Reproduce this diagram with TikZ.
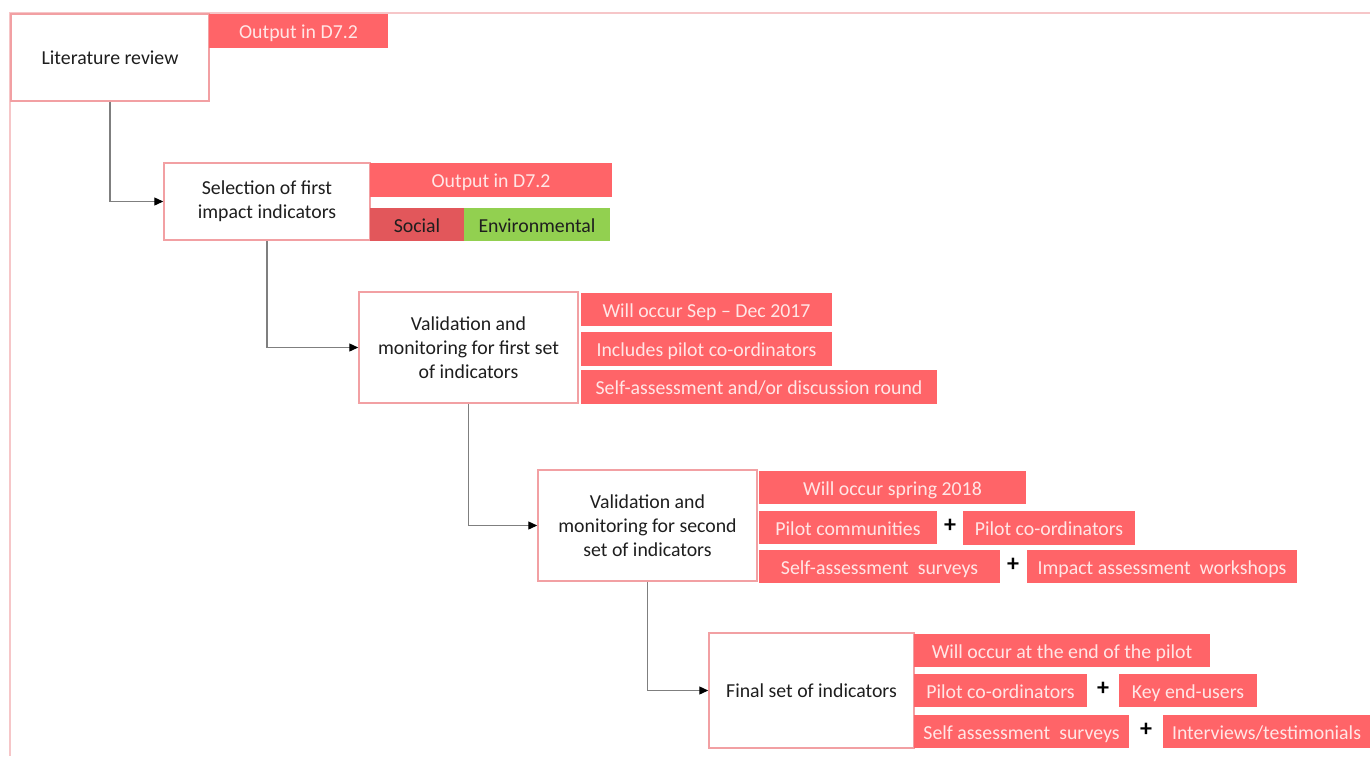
\documentclass[tikz,border=0pt]{standalone}
\usepackage{fontspec}
\setmainfont{Carlito}
\usetikzlibrary{arrows.meta}

\definecolor{framepink}{HTML}{F6C6C8}
\definecolor{boxpink}{HTML}{F2A0A3}
\definecolor{tagred}{HTML}{FF6468}
\definecolor{tagtext}{HTML}{FFE6E6}
\definecolor{socialred}{HTML}{E2575B}
\definecolor{envgreen}{HTML}{92D050}
\definecolor{linkgray}{HTML}{7F7F7F}
\definecolor{bodytext}{HTML}{1E1E1E}

\tikzset{
  txt/.style={font=\fontsize{19.8}{24}\selectfont},
  sz/.style 2 args={minimum width=#1pt, minimum height=#2pt},
  stepbox/.style={txt, draw=boxpink, line width=1.5pt, fill=white, text=bodytext,
    align=center, inner sep=0pt},
  tag/.style={txt, fill=tagred, text=tagtext, inner sep=0pt,
    text height=17pt, text depth=2pt},
  plus/.style={font=\fontsize{24}{24}\selectfont\bfseries, text=black, inner sep=0pt},
  link/.style={draw=linkgray, line width=1.3pt,
    -{Triangle[length=9pt,width=8pt,color=black]}}
}

\begin{document}
\begin{tikzpicture}[x=1pt, y=-1pt]
\useasboundingbox (0,0) rectangle (1370,756);

% outer frame (top and left edges)
\draw[framepink, line width=2pt] (1370,13) -- (10,13) -- (10,756);

% stage 1
\node[stepbox, sz={198}{87}] (b1) at (110,57.5) {Literature review};
\node[tag, sz={179}{34}] (t1) at (298.5,31) {Output in D7.2};

% stage 2
\node[stepbox, sz={206}{77}] (b2) at (267,201.5) {Selection of first\\impact indicators};
\node[tag, sz={242}{34}] (t2) at (491,180) {Output in D7.2};
\node[tag, fill=socialred, text=bodytext, sz={94}{33}] (soc) at (417,224.5) {Social};
\node[tag, fill=envgreen, text=bodytext, sz={146}{33}] (env) at (537,224.5) {Environmental};

% stage 3
\node[stepbox, sz={219}{111}] (b3) at (468.5,347.5) {Validation and\\monitoring for first set\\of indicators};
\node[tag, sz={251}{33}] (t3a) at (706.5,309.5) {Will occur Sep -- Dec 2017};
\node[tag, sz={251}{34}] (t3b) at (706.5,349) {Includes pilot co-ordinators};
\node[tag, sz={356}{34}] (t3c) at (759,387) {Self-assessment and/or discussion round};

% stage 4
\node[stepbox, sz={219}{111}] (b4) at (647.5,525.5) {Validation and\\monitoring for second\\set of indicators};
\node[tag, sz={267}{33}] (t4a) at (892.5,487.5) {Will occur spring 2018};
\node[tag, sz={178}{33}] (t4b) at (848,527.5) {Pilot communities};
\node[plus] (p1) at (950,526) {+};
\node[tag, sz={172}{34}] (t4c) at (1049,528) {Pilot co-ordinators};
\node[tag, sz={241}{33}] (t4d) at (879.5,566.5) {Self-assessment\ \ surveys};
\node[plus] (p2) at (1013,565) {+};
\node[tag, sz={270}{33}] (t4e) at (1162,566.5) {Impact assessment\ \ workshops};

% stage 5
\node[stepbox, sz={205}{115}] (b5) at (811.5,690.5) {Final set of indicators};
\node[tag, sz={296}{33}] (t5a) at (1062,650.5) {Will occur at the end of the pilot};
\node[tag, sz={173}{33}] (t5b) at (1000.5,690.5) {Pilot co-ordinators};
\node[plus] (p3) at (1103,689) {+};
\node[tag, sz={138}{33}] (t5c) at (1188,690.5) {Key end-users};
\node[tag, sz={215}{33}] (t5d) at (1021.5,731.5) {Self assessment\ \ surveys};
\node[plus] (p4) at (1146,730) {+};
\node[tag, sz={207}{33}] (t5e) at (1266.5,731.5) {Interviews/testimonials};

% connectors between stages
\draw[link] (b1.south) |- (b2.west);
\draw[link] (b2.south) |- (b3.west);
\draw[link] (b3.south) |- (b4.west);
\draw[link] (b4.south) |- (b5.west);
\end{tikzpicture}
\end{document}
